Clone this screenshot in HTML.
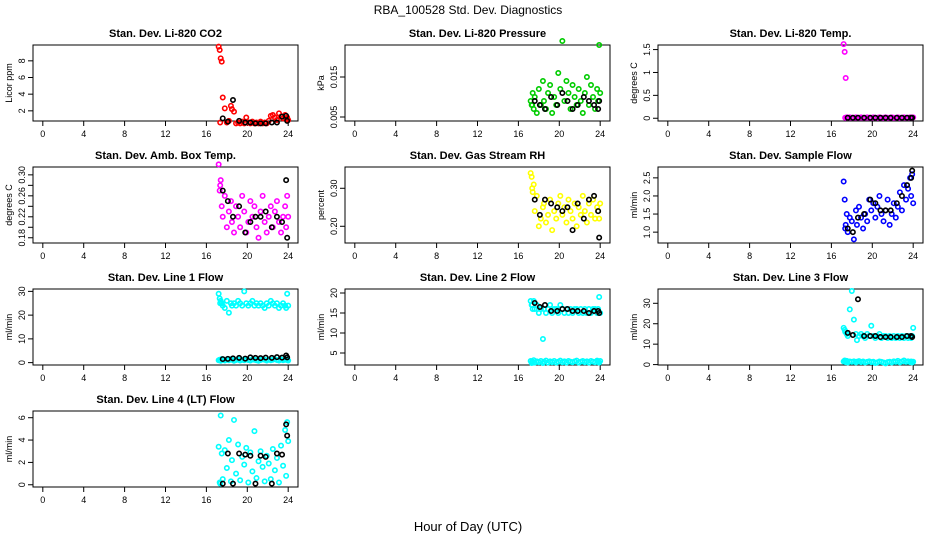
<!DOCTYPE html>
<html><head><meta charset="utf-8"><style>
body{margin:0;background:#fff;}
svg{display:block;font-family:"Liberation Sans",sans-serif;}
</style></head><body>
<svg id="c" width="936" height="540">
<text x="468" y="14" text-anchor="middle" font-size="12">RBA_100528  Std. Dev. Diagnostics</text>
<text x="468" y="531" text-anchor="middle" font-size="13">Hour of Day (UTC)</text>
</svg>
<script>
const xTicks=[0,4,8,12,16,20,24];
const T=[17.2,17.3,17.4,17.5,17.6,17.8,18.0,18.2,18.4,18.5,18.7,18.9,19.1,19.3,19.5,19.7,19.9,20.1,20.3,20.5,20.7,20.9,21.1,21.3,21.5,21.7,21.9,22.1,22.3,22.5,22.7,22.9,23.1,23.3,23.5,23.7,23.8,23.9,24.0,17.35];
const TB=[17.6,18.1,18.6,19.2,19.8,20.3,20.8,21.3,21.8,22.4,22.9,23.4,23.8,23.9];
const titles=["Stan. Dev. Li-820 CO2","Stan. Dev. Li-820 Pressure","Stan. Dev. Li-820 Temp.","Stan. Dev. Amb. Box Temp.","Stan. Dev. Gas Stream RH","Stan. Dev. Sample Flow","Stan. Dev. Line 1 Flow","Stan. Dev. Line 2 Flow","Stan. Dev. Line 3 Flow","Stan. Dev. Line 4 (LT) Flow"];
const yLabels=["Licor ppm","kPa","degrees C","degrees C","percent","ml/min","ml/min","ml/min","ml/min","ml/min"];
const colors=["#ff0000","#00cc00","#ff00ff","#ff00ff","#ffff00","#0000ff","#00ffff","#00ffff","#00ffff","#00ffff"];
const yLims=[[0.78,9.9],[0.004,0.023],[-0.06,1.6],[0.17,0.315],[0.156,0.356],[0.7,2.8],[-1,31],[2,21],[-0.2,37],[-0.2,6.6]];
const yTicks=[[2,4,6,8],[0.005,0.015],[0,0.5,1,1.5],[0.18,0.20,0.22,0.24,0.26,0.28,0.30],[0.20,0.30],[1.0,1.5,2.0,2.5],[0,10,20,30],[5,10,15,20],[0,10,20,30],[0,2,4,6]];
const yTickLabels=[["2","4","6","8"],["0.005","0.015"],["0","0.5","1","1.5"],["0.18","","0.22","","0.26","","0.30"],["0.20","0.30"],["1.0","1.5","2.0","2.5"],["0","10","20","30"],["5","10","15","20"],["0","10","20","30"],["0","2","4","6"]];
const co2=[9.7,9.3,8.3,7.9,3.6,2.3,0.6,0.8,2.6,2.2,1.9,0.5,0.6,0.5,0.7,0.5,1.2,0.6,0.5,0.7,0.5,0.6,0.5,0.7,0.5,0.6,0.5,0.8,1.4,1.5,1.2,0.9,1.7,1.3,1.1,1.5,1.0,1.2,0.9,0.6];
const co2B=[1.1,0.7,3.3,0.8,0.6,0.6,0.5,0.5,0.5,0.6,0.6,1.3,1.4,0.8];
const pres=[0.009,0.008,0.011,0.007,0.010,0.006,0.012,0.008,0.014,0.009,0.007,0.011,0.013,0.006,0.010,0.008,0.016,0.012,0.024,0.009,0.014,0.011,0.007,0.013,0.010,0.008,0.012,0.009,0.006,0.011,0.015,0.008,0.013,0.010,0.007,0.012,0.009,0.023,0.011,0.008];
const presB=[0.009,0.008,0.007,0.010,0.008,0.011,0.009,0.007,0.008,0.010,0.009,0.008,0.007,0.009];
const temp=[1.62,1.45,0.88,0.02,0.01,0.02,0.01,0.01,0.02,0.01,0.01,0.02,0.01,0.01,0.02,0.01,0.01,0.02,0.01,0.01,0.02,0.01,0.01,0.02,0.01,0.01,0.02,0.01,0.01,0.02,0.01,0.01,0.02,0.01,0.01,0.02,0.01,0.01,0.02,0.01];
const tempB=[0.01,0.01,0.01,0.01,0.01,0.01,0.01,0.01,0.01,0.01,0.01,0.01,0.01,0.01];
const amb=[0.32,0.27,0.29,0.24,0.22,0.26,0.20,0.23,0.25,0.21,0.19,0.24,0.22,0.20,0.26,0.23,0.19,0.21,0.25,0.22,0.24,0.20,0.18,0.23,0.26,0.21,0.19,0.22,0.24,0.20,0.23,0.25,0.21,0.19,0.22,0.24,0.20,0.26,0.22,0.28];
const ambB=[0.27,0.25,0.22,0.24,0.19,0.21,0.22,0.22,0.23,0.20,0.22,0.21,0.29,0.18];
const rh=[0.34,0.33,0.29,0.31,0.24,0.28,0.20,0.22,0.25,0.26,0.21,0.23,0.27,0.19,0.24,0.22,0.26,0.28,0.23,0.25,0.21,0.27,0.24,0.22,0.26,0.20,0.25,0.23,0.28,0.24,0.21,0.26,0.23,0.27,0.22,0.25,0.24,0.22,0.26,0.30];
const rhB=[0.27,0.23,0.27,0.26,0.25,0.24,0.25,0.19,0.26,0.22,0.27,0.28,0.24,0.17];
const samp=[2.4,1.9,1.2,1.5,1.0,1.4,1.3,0.8,1.6,1.2,1.7,1.4,1.1,1.5,1.3,1.9,1.6,1.8,1.4,1.7,2.0,1.5,1.3,1.6,1.9,1.2,1.5,1.8,1.4,1.7,2.1,1.6,2.3,1.9,2.2,2.5,2.0,2.6,1.8,1.1];
const sampB=[1.1,1.0,1.4,1.5,1.9,1.8,1.6,1.6,1.6,1.8,2.0,2.3,2.5,2.7];
const l1=[29,27,26,25,24,23,26,21,25,24,25,24,26,25,24,30,25,24,25,26,24,25,24,25,24,23,25,24,26,25,24,25,23,24,25,24,23,29,24,25];
const l1Low=[1.0,1.2,0.8,1.5,1.1,0.9,1.3,1.0,1.4,1.2,0.8,1.1,1.3,0.9,1.2,1.0,1.4,1.1,0.9,1.3,1.2,1.0,0.8,1.1,1.4,1.2,0.9,1.3,1.0,1.2,1.5,1.1,0.9,1.3,1.0,1.2,1.4,1.1,0.9,1.0];
const l1B=[1.5,1.6,1.8,2.0,1.7,2.2,2.0,1.9,2.1,2.0,2.3,2.1,3.0,2.2];
const l2=[18,17,16,18,16,17,15,16,8.5,16,15,16,17,15,16,16,15,17,16,15,16,15,16,15,16,16,15,16,15,16,15,16,15,16,16,15,16,19,15,17];
const l2Low=[3.0,2.5,2.8,3.2,2.6,2.9,2.7,3.0,2.5,2.8,3.1,2.6,2.9,2.7,3.0,2.6,2.8,3.1,2.7,2.9,2.6,3.0,2.8,2.7,2.9,3.1,2.6,2.8,3.0,2.7,2.9,2.6,3.0,2.8,2.7,3.1,2.9,2.6,3.0,2.8];
const l2B=[17.5,16.5,17,15.5,15.5,16,16,15.5,15.5,15.5,15,15.5,15.5,15];
const l3=[18,17,16,15,14,27,36,22,15,12,14,15,14,13,15,14,19,14,13,14,15,13,14,14,13,14,13,14,13,14,13,14,13,14,13,14,13,14,18,16];
const l3Low=[1.5,2.0,1.2,1.8,1.0,1.5,1.3,1.6,1.1,1.4,1.7,1.2,1.5,1.0,1.3,1.6,1.2,1.4,0.8,1.1,1.5,1.3,1.0,0.6,1.2,1.4,1.0,1.6,1.3,1.8,1.1,1.5,2.0,1.3,1.6,1.2,1.5,1.0,1.4,1.8];
const l3B=[15.5,14.5,32,14,14,14,13.5,13.5,13.5,13.5,13.5,14,14,13.5];
const l4=[3.4,0.2,6.2,2.8,0.5,3.1,1.5,4.0,0.3,2.2,5.8,1.0,3.6,0.4,2.5,1.8,3.3,0.2,2.9,1.2,4.8,0.6,2.1,3.0,1.6,0.3,2.6,1.9,0.5,3.2,1.3,2.4,0.2,3.5,1.7,4.9,0.8,5.6,3.9,0.1];
const l4B=[0.1,2.8,0.1,2.8,2.7,2.6,0.1,2.6,2.5,0.1,2.8,2.7,5.4,4.4];
const series=[[co2,co2B],[pres,presB],[temp,tempB],[amb,ambB],[rh,rhB],[samp,sampB],[l1,l1B,l1Low],[l2,l2B,l2Low],[l3,l3B,l3Low],[l4,l4B]];

const NS="http://www.w3.org/2000/svg";
const svg=document.getElementById('c');
const colLeft=[33,345,658], rowTop=[45,167,289,411], W=265, H=76;
function mk(tag,attrs,parent){const e=document.createElementNS(NS,tag);for(const k in attrs)e.setAttribute(k,attrs[k]);(parent||svg).appendChild(e);return e;}
for(let p=0;p<10;p++){
  const L=colLeft[p%3], Tp=rowTop[Math.floor(p/3)];
  const g=mk('g',{});
  
  
  const xs=v=>L+W*(v+0.96)/25.92;
  const [y0,y1]=yLims[p];
  const ys=v=>Tp+H-H*(v-y0)/(y1-y0);
  const box=mk('rect',{x:L,y:Tp,width:W,height:H,fill:'none',stroke:'#000','stroke-width':1},g);
  
  
  const t=mk('text',{x:L+W/2,y:Tp-8,'text-anchor':'middle','font-size':11,'font-weight':'bold'},g);
  t.textContent=titles[p];
  
  
  const xa=mk('g',{},g);
  
  
  mk('line',{x1:xs(0),x2:xs(24),y1:Tp+H,y2:Tp+H,stroke:'#000'},xa);
  xTicks.forEach(v=>{
    mk('line',{x1:xs(v),x2:xs(v),y1:Tp+H,y2:Tp+H+5,stroke:'#000'},xa);
    const lt=mk('text',{x:xs(v),y:Tp+H+16,'text-anchor':'middle','font-size':9},xa);
    lt.textContent=v;
    
    
  });
  const ya=mk('g',{},g);
  
  
  const tk=yTicks[p];
  mk('line',{x1:L,x2:L,y1:ys(tk[0]),y2:ys(tk[tk.length-1]),stroke:'#000'},ya);
  tk.forEach((v,i)=>{
    mk('line',{x1:L-5,x2:L,y1:ys(v),y2:ys(v),stroke:'#000'},ya);
    const lab=yTickLabels[p][i];
    if(!lab) return;
    const lt=mk('text',{x:0,y:0,'text-anchor':'middle','font-size':9,transform:`translate(${L-8},${ys(v)}) rotate(-90)`},ya);
    lt.textContent=lab;
    
    
  });
  const yl=mk('text',{x:0,y:0,'text-anchor':'middle','font-size':9,transform:`translate(${L-21},${Tp+H/2}) rotate(-90)`},g);
  yl.textContent=yLabels[p];
  
  
  const s=series[p];
  const order=[[s[0],T,colors[p]]];
  if(s[2]) order.push([s[2],T,colors[p]]);
  order.push([s[1],TB,'#000']);
  order.forEach(([vals,times,col])=>{
    vals.forEach((v,i)=>{
      const c=mk('circle',{cx:xs(times[i]),cy:ys(v),r:2.2,fill:'none',stroke:col,'stroke-width':1.6},g);
      
      
    });
  });
}
</script>
</body></html>
